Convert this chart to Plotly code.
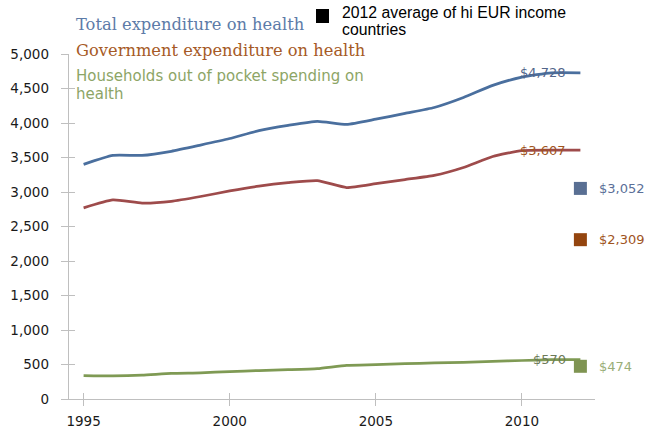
import plotly.graph_objects as go

# ---------------- data ----------------
years = list(range(1995, 2013))
total = [3400, 3530, 3530, 3590, 3680, 3775, 3890, 3965, 4025, 3980,
         4055, 4140, 4225, 4370, 4545, 4665, 4728, 4728]
government = [2770, 2885, 2840, 2865, 2935, 3015, 3085, 3135, 3165, 3065,
              3120, 3180, 3240, 3355, 3515, 3600, 3607, 3607]
households = [340, 334, 345, 372, 380, 398, 412, 424, 440, 488,
              498, 512, 522, 532, 544, 558, 570, 570]
series_names = ["Total expenditure on health",
                "Government expenditure on health",
                "Households out of pocket spending on health"]
end_labels = ["$4,728", "$3,607", "$570"]
avg_year = 2012
avg_values = [3052, 2309, 474]
avg_labels = ["$3,052", "$2,309", "$474"]
avg_title = ["2012 average of hi EUR income", "countries"]
x_ticks = [1995, 2000, 2005, 2010]
y_ticks = list(range(0, 5001, 500))

# ---------------- styles ----------------
line_colors = ["#4a6f9e", "#9e4b4b", "#7f9a54"]
end_label_colors = ["#52658a", "#a0541e", "#6d7a58"]
avg_marker_colors = ["#596f93", "#94450f", "#7f9452"]
avg_label_colors = ["#5b6f98", "#a0541e", "#9aae78"]
legend_colors = ["#5d7ba8", "#a65a26", "#8da566"]
axis_color = "#bfbfbf"

W, H = 654, 432
L, R, T, B = 69, 59, 54, 33
PW, PH = W - L - R, H - T - B


def px2paper(px):
    return (px - L) / PW


def py2paper(py):
    return (H - B - py) / PH


fig = go.Figure()
for vals, name, col in zip([total, government, households], series_names, line_colors):
    fig.add_trace(go.Scatter(x=years, y=vals, name=name, mode="lines",
                             line=dict(color=col, width=2.75, shape="spline", smoothing=0.5),
                             showlegend=False, hoverinfo="skip"))

fig.add_trace(go.Scatter(x=[avg_year] * len(avg_values), y=avg_values, mode="markers",
                         marker=dict(symbol="square", size=13, color=avg_marker_colors,
                                     line=dict(width=0)),
                         showlegend=False, hoverinfo="skip"))

# invisible trace for the overlay axes (inner half of cross tick marks)
fig.add_trace(go.Scatter(x=years, y=total, xaxis="x2", yaxis="y2", mode="lines",
                         line=dict(width=0), opacity=0, showlegend=False, hoverinfo="skip"))

annotations = []
for vals, lab, col in zip([total, government, households], end_labels, end_label_colors):
    annotations.append(dict(x=years[-1], y=vals[-1], xref="x", yref="y", text=lab,
                            showarrow=False, xanchor="right", yanchor="middle", xshift=-12,
                            font=dict(family="DejaVu Sans", size=13, color=col)))
for v, lab, col in zip(avg_values, avg_labels, avg_label_colors):
    annotations.append(dict(x=avg_year, y=v, xref="x", yref="y", text=lab,
                            showarrow=False, xanchor="left", yanchor="middle", xshift=17,
                            font=dict(family="DejaVu Sans", size=13, color=col)))

annotations.append(dict(x=px2paper(74), y=py2paper(25), xref="paper", yref="paper",
                        text=series_names[0], showarrow=False, xanchor="left", yanchor="middle",
                        font=dict(family="DejaVu Serif", size=16.3, color=legend_colors[0])))
annotations.append(dict(x=px2paper(74), y=py2paper(50), xref="paper", yref="paper",
                        text=series_names[1], showarrow=False, xanchor="left", yanchor="middle",
                        font=dict(family="DejaVu Serif", size=16.3, color=legend_colors[1])))
hh_words = series_names[2].rsplit(" ", 1)
annotations.append(dict(x=px2paper(75), y=py2paper(76), xref="paper", yref="paper",
                        text=hh_words[0], showarrow=False, xanchor="left", yanchor="middle",
                        borderpad=0,
                        font=dict(family="DejaVu Sans", size=15, color=legend_colors[2])))
annotations.append(dict(x=px2paper(75), y=py2paper(94), xref="paper", yref="paper",
                        text=hh_words[1], showarrow=False, xanchor="left", yanchor="middle",
                        borderpad=0,
                        font=dict(family="DejaVu Sans", size=15, color=legend_colors[2])))
annotations.append(dict(x=px2paper(340), y=py2paper(12.5), xref="paper", yref="paper",
                        text=avg_title[0], showarrow=False, xanchor="left", yanchor="middle",
                        font=dict(family="Liberation Sans", size=15.8, color="#000000")))
annotations.append(dict(x=px2paper(340), y=py2paper(30), xref="paper", yref="paper",
                        text=avg_title[1], showarrow=False, xanchor="left", yanchor="middle",
                        font=dict(family="Liberation Sans", size=15.8, color="#000000")))

shapes = [dict(type="rect", xref="paper", yref="paper",
               x0=px2paper(316), x1=px2paper(329), y0=py2paper(23), y1=py2paper(9),
               fillcolor="#000000", line=dict(width=0))]

tickfont = dict(family="DejaVu Sans", size=13.5, color="#1a1a1a")
fig.update_layout(
    width=W, height=H,
    margin=dict(l=L, r=R, t=T, b=B, pad=0),
    paper_bgcolor="white", plot_bgcolor="white",
    showlegend=False,
    annotations=annotations,
    shapes=shapes,
    xaxis=dict(range=[1994.5, 2012.5], tickvals=x_ticks, ticks="outside", ticklen=6,
               tickcolor=axis_color, tickwidth=1, showline=True, linecolor=axis_color,
               linewidth=1.3, showgrid=False, zeroline=False, tickfont=tickfont,
               ticklabelstandoff=3, fixedrange=True, automargin=False),
    yaxis=dict(range=[0, 5000], tickvals=y_ticks, tickformat=",", ticks="outside", ticklen=7,
               tickcolor=axis_color, tickwidth=1, showline=True, linecolor=axis_color,
               linewidth=1.3, showgrid=False, zeroline=False, tickfont=tickfont,
               ticklabelstandoff=9, fixedrange=True, automargin=False),
    xaxis2=dict(range=[1994.5, 2012.5], tickvals=x_ticks, ticks="inside", ticklen=6,
                tickcolor=axis_color, tickwidth=1, overlaying="x", side="bottom",
                showticklabels=False, showline=False, showgrid=False, zeroline=False),
    yaxis2=dict(range=[0, 5000], tickvals=y_ticks, ticks="inside", ticklen=6,
                tickcolor=axis_color, tickwidth=1, overlaying="y", side="left",
                showticklabels=False, showline=False, showgrid=False, zeroline=False),
)

fig.write_html("out.html", config={"displayModeBar": False, "staticPlot": True},
               post_script="document.body.style.margin='0';document.body.style.overflow='hidden';")
